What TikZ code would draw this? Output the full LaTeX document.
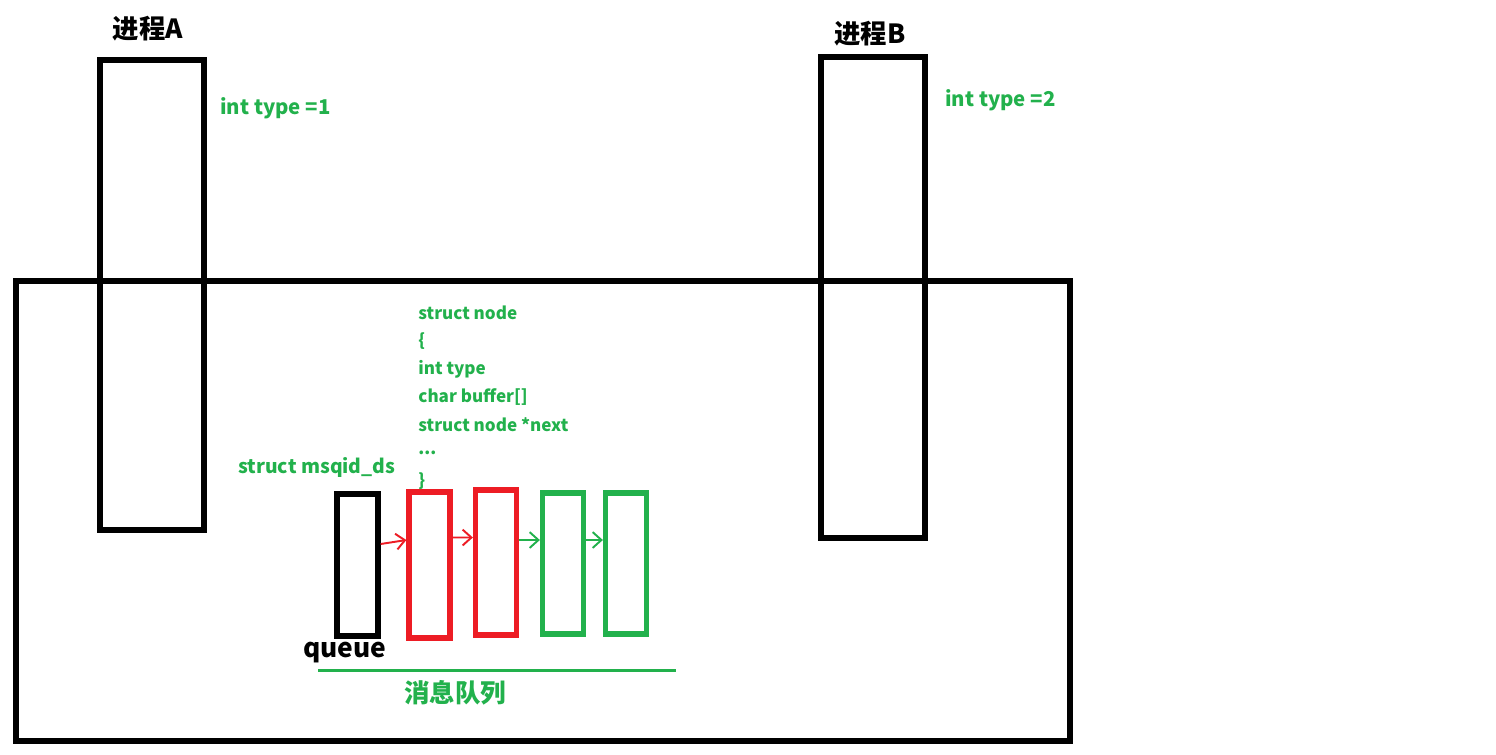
\documentclass[tikz,border=0pt]{standalone}
\usepackage{fontspec}
\setmainfont{Noto Sans CJK SC}
\usepackage{tikz}
\usetikzlibrary{arrows.meta}
\definecolor{pgreen}{RGB}{34,177,76}
\definecolor{pred}{RGB}{237,28,36}
\tikzset{
  proc/.style={draw, line width=3pt, minimum width=2.08cm, inner sep=0pt},
  msgbox/.style={draw, line width=3pt, minimum width=0.82cm, inner sep=0pt},
  gtext/.style={text=pgreen, font=\bfseries\fontsize{11.6}{14}\selectfont, inner sep=0pt},
  codeline/.style={text=pgreen, font=\bfseries\fontsize{9.7}{12}\selectfont, inner sep=0pt, anchor=west},
  link/.style={-{Straight Barb[length=5pt, width=9pt]}, line width=1.1pt}
}
\begin{document}
\begin{tikzpicture}[x=0.02cm, y=-0.02cm]
\fill[white] (0,0) rectangle (1496,754);
\useasboundingbox (0,0) rectangle (1496,754);
% kernel area
\node (K) at (543,511) [draw, line width=3pt, minimum width=21.08cm, minimum height=9.2cm, inner sep=0pt] {};
% the two processes
\node (A) at (152,295) [proc, minimum height=9.4cm] {};
\node (B) at (873,297.5) [proc, minimum height=9.62cm] {};
\node (Alab) at (148,29) [font=\bfseries\fontsize{15}{17}\selectfont, inner sep=0pt] {进程A};
\node (Blab) at (870,34) [font=\bfseries\fontsize{15}{17}\selectfont, inner sep=0pt] {进程B};
\node (Atype) at (220,108) [gtext, anchor=west] {int type =1};
\node (Btype) at (945,100) [gtext, anchor=west] {int type =2};
% struct node
\node (c1) at (418,313) [codeline] {struct node};
\node (c2) at (418,341) [codeline] {\{};
\node (c3) at (418,369) [codeline] {int type};
\node (c4) at (418,397) [codeline] {char buffer[]};
\node (c5) at (418,425) [codeline] {struct node *next};
\node (c6) at (418,453) [codeline] {...};
\node (c7) at (418,481) [codeline] {\}};
\node (ds) at (238,467) [gtext, font=\bfseries\fontsize{11}{13}\selectfont, anchor=west] {struct msqid\_ds};
% message queue
\node (Q)  at (357.5,565) [msgbox, minimum height=2.84cm] {};
\node (R1) at (429.5,565) [msgbox, draw=pred, minimum height=2.92cm] {};
\node (R2) at (496,562.5) [msgbox, draw=pred, minimum height=2.9cm] {};
\node (G1) at (563,563.5) [msgbox, draw=pgreen, minimum height=2.82cm] {};
\node (G2) at (626,563.5) [msgbox, draw=pgreen, minimum height=2.82cm] {};
\draw[link, pred] ([yshift=0.42cm]Q.east) -- ([yshift=0.5cm]R1.west);
\draw[link, pred] ([yshift=0.55cm]R1.east) -- ([yshift=0.5cm]R2.west);
\draw[link, pgreen] ([yshift=0.45cm]R2.east) -- ([yshift=0.47cm]G1.west);
\draw[link, pgreen] ([yshift=0.47cm]G1.east) -- ([yshift=0.47cm]G2.west);
\node (qlab) at (345,653) [font=\bfseries\fontsize{15}{17}\selectfont, inner sep=0pt] {queue};
\coordinate (m1) at (318,670);
\coordinate (m2) at (676,670);
\draw[pgreen, line width=1.7pt] (m1) -- (m2);
\node (mq) at (455,693) [text=pgreen, font=\bfseries\fontsize{14.5}{17}\selectfont, inner sep=0pt] {消息队列};
\end{tikzpicture}
\end{document}
